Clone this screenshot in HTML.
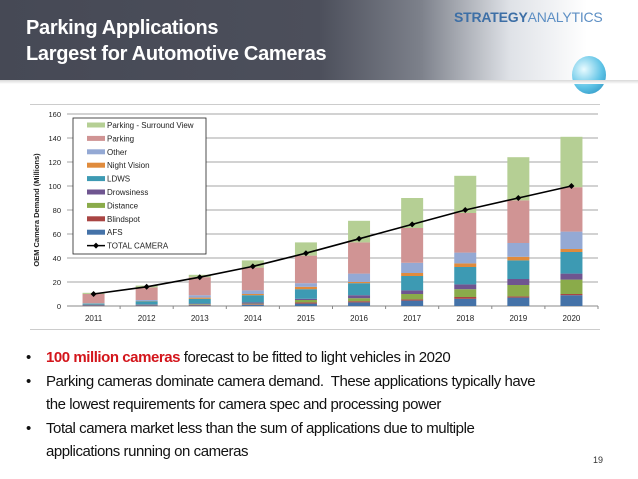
<!DOCTYPE html>
<html><head><meta charset="utf-8"><style>
body{margin:0;width:638px;height:479px;overflow:hidden;background:#fff;font-family:"Liberation Sans",sans-serif;position:relative}
#hdr{position:absolute;left:0;top:0;width:638px;height:80px;background:linear-gradient(90deg,#464955 0%,#4c4f5b 50%,#7d818b 66%,#dfe2e7 80%,#fff 92%)}
#hdr:after{content:"";position:absolute;left:0;top:80px;width:638px;height:4px;background:linear-gradient(#d8d8d8,#fff)}
.t{position:absolute;left:26px;color:#fff;font-weight:bold;font-size:20px;letter-spacing:-0.3px}
#logo{position:absolute;left:454px;top:9px;font-size:14px;font-weight:bold;color:#3d6fa6;letter-spacing:-0.2px}
#logo span{font-weight:normal;color:#5d8fc4}
#globe{position:absolute;left:572px;top:56px;width:34px;height:38px;border-radius:50%;background:radial-gradient(circle at 35% 35%,#e9fbff,#5ec3e6 55%,#1f86b8)}
.ln{position:absolute;left:30px;width:570px;height:1px;background:#ccc}
ul{position:absolute;left:0;top:346px;margin:0;padding:0;list-style:none;font-size:15px;color:#111;letter-spacing:-0.45px;line-height:23.5px}
li{position:relative;padding-left:46px;width:500px}
li:before{content:"•";position:absolute;left:26px}
.red{color:#d3151b;font-weight:bold}
#pg{position:absolute;left:593px;top:455px;font-size:9px;color:#333}
</style></head><body>
<div id="hdr">
<div class="t" style="top:17px">Parking Applications</div>
<div class="t" style="top:43px">Largest for Automotive Cameras</div>
<div id="logo">STRATEGY<span>ANALYTICS</span></div>
<div id="globe"></div>
</div>
<div class="ln" style="top:104px"></div>
<div class="ln" style="top:329px"></div>
<svg id="chart" width="638" height="479" style="position:absolute;left:0;top:0"></svg>
<ul>
<li><span class="red">100 million cameras</span> forecast to be fitted to light vehicles in 2020</li>
<li>Parking cameras dominate camera demand.&nbsp; These applications typically have the lowest requirements for camera spec and processing power</li>
<li>Total camera market less than the sum of applications due to multiple applications running on cameras</li>
</ul>
<div id="pg">19</div>
<script>
const years=["2011","2012","2013","2014","2015","2016","2017","2018","2019","2020"];
const seriesNames=["AFS","Blindspot","Distance","Drowsiness","LDWS","Night Vision","Other","Parking","Parking - Surround View"];
const afs=[0.5,0.5,0.5,1,2,3,4.5,6,7,9];
const blindspot=[0.3,0.3,0.5,0.5,1,1,1,1.5,1,1];
const distance=[0.2,0.2,0.5,0.5,2,2.5,4.5,6.5,9.5,12];
const drowsiness=[0.2,0.3,0.5,1,1,2.5,3,4,5,5];
const ldws=[0.8,2.7,4,6,8,10,12,14.5,15.5,18];
const nightVision=[0.2,0.2,1,1,2,1,2.5,3,3,2.5];
const other=[0.3,0.8,2,3,3,7,8.5,9,11.5,14.5];
const parking=[7.5,10.5,15,19,23,26,29,33,35.5,37];
const surround=[1,1.5,2,6,11,18,25,31,36,42];
const total=[10,16,24,33,44,56,68,80,90,100];
const yTicks=[0,20,40,60,80,100,120,140,160];
const series=[afs,blindspot,distance,drowsiness,ldws,nightVision,other,parking,surround];
const colors=["#4472a8","#a94543","#8aab4a","#6f5590","#3d9ab3","#e08b3c","#94a9d4","#d09494","#b5cf94"];
const svg=document.getElementById('chart');const NS="http://www.w3.org/2000/svg";
function mk(t,a,p){const e=document.createElementNS(NS,t);for(const k in a)e.setAttribute(k,a[k]);(p||svg).appendChild(e);return e;}
const x0=67,x1=598,yB=306,yT=114;
const y=v=>yB-(v/160)*(yB-yT);
const step=(x1-x0)/years.length;
const xc=i=>x0+step*(i+0.5);
yTicks.forEach(t=>{
 if(t>0){const g=mk('line',{x1:x0,x2:x1,y1:y(t),y2:y(t),stroke:'#a6a6a6','stroke-width':1});
 
 }
 const l=mk('text',{x:x0-6,y:y(t)+3,'text-anchor':'end','font-size':7.5,fill:'#222'});l.textContent=t;
 
 
});
mk('line',{x1:x0,x2:x1,y1:yB,y2:yB,stroke:'#888'});
years.forEach((yr,i)=>{
 let base=0;
 series.forEach((s,k)=>{
  const r=mk('rect',{x:xc(i)-11,width:22,y:y(base+s[i]),height:y(base)-y(base+s[i]),fill:colors[k]});
  
  
  base+=s[i];
 });
 const l=mk('text',{x:xc(i),y:yB+15,'text-anchor':'middle','font-size':8,fill:'#222'});l.textContent=yr;
 
 
 mk('line',{x1:x0+step*(i+1),x2:x0+step*(i+1),y1:yB,y2:yB+3,stroke:'#888'});
});
const pl=mk('polyline',{points:total.map((v,i)=>xc(i)+','+y(v)).join(' '),fill:'none',stroke:'#000','stroke-width':1.6});


total.forEach((v,i)=>{const d=mk('path',{d:`M${xc(i)} ${y(v)-3}l3 3-3 3-3-3z`,fill:'#000'});
 
 });
const yt=mk('text',{transform:'translate(39,210) rotate(-90)','text-anchor':'middle','font-size':7.5,'font-weight':'bold',fill:'#222'});
yt.textContent='OEM Camera Demand (Millions)';


const lg=mk('g',{});


mk('rect',{x:73,y:118,width:133,height:136,fill:'#fff',stroke:'#222','stroke-width':0.8},lg);
const order=[8,7,6,5,4,3,2,1,0];
order.forEach((k,j)=>{const yy=125+j*13.4;
 mk('rect',{x:87,y:yy-2.5,width:18,height:5,fill:colors[k]},lg);
 const t=mk('text',{x:107,y:yy+3,'font-size':8,fill:'#222'},lg);t.textContent=seriesNames[k];
 
 });
const ly=125+9*13.4;
mk('line',{x1:87,x2:105,y1:ly,y2:ly,stroke:'#000','stroke-width':1.5},lg);
mk('path',{d:`M96 ${ly-3}l3 3-3 3-3-3z`},lg);
const tt=mk('text',{x:107,y:ly+3,'font-size':8,fill:'#222'},lg);tt.textContent='TOTAL CAMERA';


</script>
</body></html>
